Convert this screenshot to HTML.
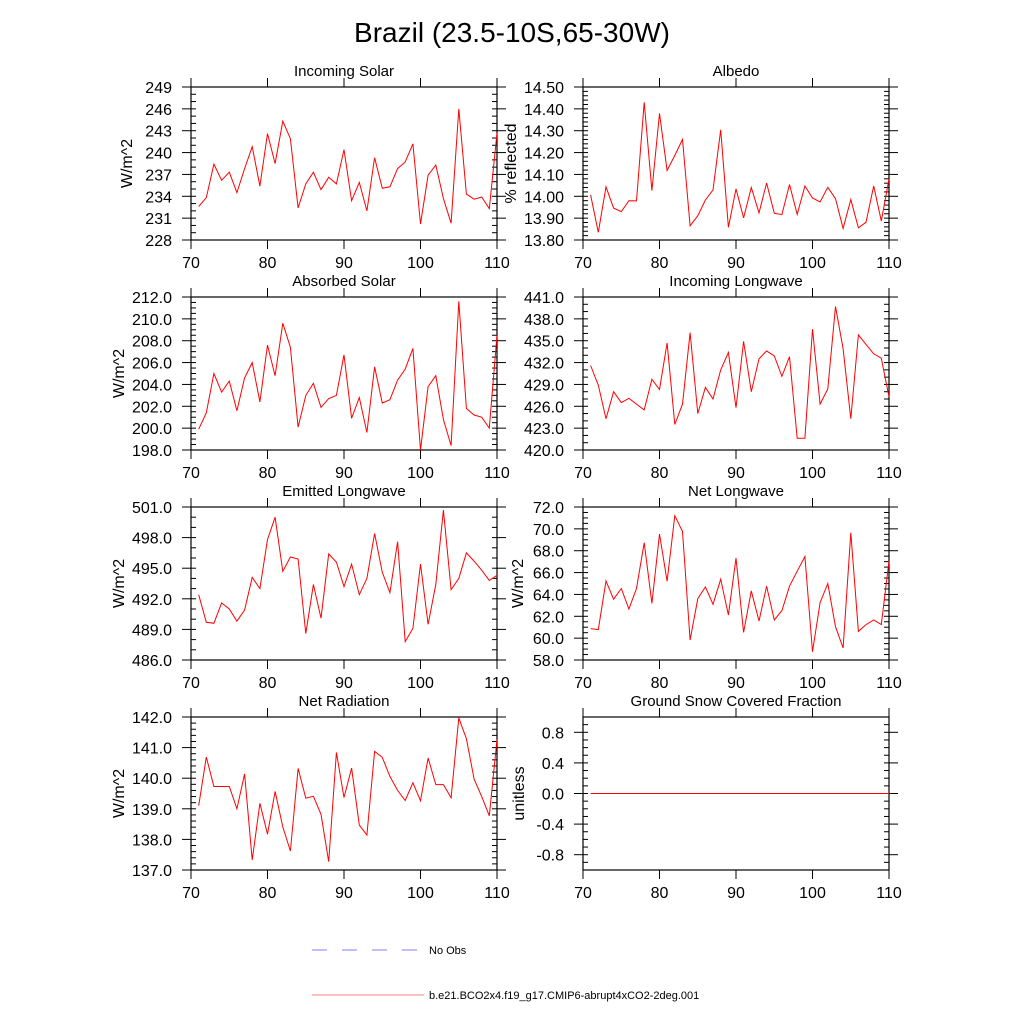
<!DOCTYPE html>
<html><head><meta charset="utf-8"><style>
html,body{margin:0;padding:0;background:#fff;}
svg text{font-family:"Liberation Sans",sans-serif;fill:#000;}
</style></head><body>
<svg id="chart" width="1024" height="1024" viewBox="0 0 1024 1024" xmlns="http://www.w3.org/2000/svg">
<rect x="0" y="0" width="1024" height="1024" fill="#fff"/>
<text x="512" y="42" font-size="28" text-anchor="middle">Brazil (23.5-10S,65-30W)</text>
<g id="panels"></g>
<g>
<line x1="312" y1="950" x2="418" y2="950" stroke="#7f7fff" stroke-width="1" stroke-dasharray="15,15"/>
<text x="429" y="954" font-size="11">No Obs</text>
<line x1="312" y1="995" x2="424" y2="995" stroke="#ff8080" stroke-width="1"/>
<text x="429" y="999" font-size="11">b.e21.BCO2x4.f19_g17.CMIP6-abrupt4xCO2-2deg.001</text>
</g>
</svg>
<script>
const years = [71,72,73,74,75,76,77,78,79,80,81,82,83,84,85,86,87,88,89,90,91,92,93,94,95,96,97,98,99,100,101,102,103,104,105,106,107,108,109,110];
const xTicks = [70,80,90,100,110];
const incomingSolar = [232.6,233.8,238.4,236.2,237.3,234.5,237.8,240.8,235.4,242.6,238.5,244.3,241.9,232.4,235.7,237.3,234.9,236.6,235.7,240.4,233.4,235.9,232.0,239.3,235.1,235.3,237.8,238.7,241.2,230.2,236.9,238.3,233.7,230.3,246.0,234.3,233.6,233.9,232.3,242.7];
const albedo = [14.006,13.835,14.043,13.946,13.930,13.980,13.979,14.430,14.026,14.379,14.118,14.187,14.260,13.865,13.911,13.983,14.029,14.304,13.858,14.034,13.901,14.040,13.924,14.061,13.922,13.916,14.054,13.917,14.047,13.992,13.974,14.041,13.989,13.853,13.985,13.856,13.881,14.047,13.887,14.080];
const absorbedSolar = [199.9,201.4,205.0,203.3,204.3,201.6,204.6,206.0,202.4,207.6,204.8,209.6,207.4,200.1,203.0,204.1,201.9,202.7,203.0,206.7,200.9,202.8,199.6,205.6,202.3,202.6,204.4,205.4,207.3,198.0,203.8,204.8,200.8,198.4,211.6,201.8,201.2,201.0,200.0,208.5];
const incomingLW = [431.6,428.9,424.3,428.0,426.5,427.1,426.3,425.5,429.7,428.3,434.7,423.5,426.3,436.1,425.0,428.6,427.0,431.0,433.4,425.8,434.9,428.0,432.5,433.6,432.9,430.1,432.8,421.6,421.6,436.6,426.3,428.4,439.7,433.9,424.3,435.8,434.5,433.2,432.6,427.3];
const emittedLW = [492.4,489.7,489.6,491.6,491.0,489.8,490.9,494.1,493.0,497.8,500.0,494.7,496.1,495.9,488.6,493.4,490.1,496.4,495.6,493.2,495.4,492.4,494.0,498.4,494.6,492.6,497.6,487.8,489.1,495.4,489.5,493.4,500.7,492.9,494.0,496.5,495.7,494.8,493.8,494.3];
const netLW = [60.87,60.78,65.24,63.56,64.54,62.67,64.54,68.73,63.19,69.52,65.21,71.20,69.77,59.83,63.62,64.69,63.10,65.39,62.12,67.32,60.53,64.32,61.57,64.75,61.66,62.52,64.75,66.13,67.47,58.76,63.25,65.00,61.05,59.10,69.65,60.62,61.24,61.66,61.24,67.05];
const netRad = [139.10,140.69,139.73,139.73,139.73,139.00,140.14,137.33,139.18,138.17,139.57,138.41,137.62,140.32,139.35,139.41,138.82,137.27,140.84,139.37,140.33,138.47,138.14,140.88,140.68,140.06,139.60,139.27,139.85,139.26,140.66,139.79,139.79,139.36,141.97,141.29,139.97,139.40,138.77,141.26];
const snow = [0,0,0,0,0,0,0,0,0,0,0,0,0,0,0,0,0,0,0,0,0,0,0,0,0,0,0,0,0,0,0,0,0,0,0,0,0,0,0,0];
const titles = ["Incoming Solar","Albedo","Absorbed Solar","Incoming Longwave","Emitted Longwave","Net Longwave","Net Radiation","Ground Snow Covered Fraction"];
const yTitles = ["W/m^2","% reflected","W/m^2","","W/m^2","W/m^2","W/m^2","unitless"];
const yRanges = [[228,249],[13.8,14.5],[198,212],[420,441],[486,501],[58,72],[137,142],[-1,1]];

const NS="http://www.w3.org/2000/svg";
const g=document.getElementById('panels');
function mk(tag,attrs,parent){const e=document.createElementNS(NS,tag);for(const k in attrs)e.setAttribute(k,attrs[k]);(parent||g).appendChild(e);return e;}

const cfg=[
 {data:incomingSolar,major:3,minor:1,dec:0,start:228},
 {data:albedo,major:0.1,minor:0.02,dec:2,start:13.8},
 {data:absorbedSolar,major:2,minor:0.5,dec:1,start:198},
 {data:incomingLW,major:3,minor:1,dec:1,start:420},
 {data:emittedLW,major:3,minor:1,dec:1,start:486},
 {data:netLW,major:2,minor:0.5,dec:1,start:58},
 {data:netRad,major:1,minor:0.2,dec:1,start:137},
 {data:snow,major:0.4,minor:0.1,dec:1,start:-0.8}
];
const cols=[[191,497],[583,889]];
const rows=[[87,240],[297,450],[507,660],[717,870]];
const ytitleX=[[128,512],[120,999],[120,519],[120,520]];

cfg.forEach((c,i)=>{
 const r=Math.floor(i/2), col=i%2;
 const x0=cols[col][0],x1=cols[col][1],y0=rows[r][0],y1=rows[r][1];
 const ymin=yRanges[i][0],ymax=yRanges[i][1];
 const sx=v=>x0+(v-70)/(110-70)*(x1-x0);
 const sy=v=>y1-(v-ymin)/(ymax-ymin)*(y1-y0);
 const pg=mk('g',{});
 
 
 const t=mk('text',{x:(x0+x1)/2,y:y0-11,'font-size':15,'text-anchor':'middle'},pg);
 t.textContent=titles[i];
 
 
 // minor y ticks inward
 for(let v=ymin;v<=ymax+1e-9;v+=c.minor){
  const y=sy(v);
  const a=mk('line',{x1:x0,y1:y,x2:x0+5,y2:y,stroke:'#000','stroke-width':1},pg);
  
  
  const b=mk('line',{x1:x1,y1:y,x2:x1-5,y2:y,stroke:'#000','stroke-width':1},pg);
  
  
 }
 // major y ticks outward + labels
 for(let v=c.start;v<=ymax+1e-9;v+=c.major){
  const y=sy(v);
  const a=mk('line',{x1:x0-9,y1:y,x2:x0,y2:y,stroke:'#000','stroke-width':1},pg);
  
  
  const b=mk('line',{x1:x1,y1:y,x2:x1+9,y2:y,stroke:'#000','stroke-width':1},pg);
  
  
  const l=mk('text',{x:x0-19,y:y+6,'font-size':16,'text-anchor':'end'},pg);
  l.textContent=(Math.abs(v)<1e-9?0:v).toFixed(c.dec);
  
  
 }
 xTicks.forEach(v=>{
  const x=sx(v);
  const a=mk('line',{x1:x,y1:y0-9,x2:x,y2:y0,stroke:'#000','stroke-width':1},pg);
  
  
  const b=mk('line',{x1:x,y1:y1,x2:x,y2:y1+9,stroke:'#000','stroke-width':1},pg);
  
  
  const l=mk('text',{x:x,y:y1+28,'font-size':16,'text-anchor':'middle'},pg);
  l.textContent=v;
  
  
 });
 const box=mk('rect',{x:x0,y:y0,width:x1-x0,height:y1-y0,fill:'none',stroke:'#000','stroke-width':1.2},pg);
 
 
 const yt=yTitles[i];
 if(yt){
  const tx=ytitleX[r][col], ty=(y0+y1)/2;
  const e=mk('text',{x:tx,y:ty,'font-size':16,'text-anchor':'middle',transform:`rotate(-90 ${tx} ${ty})`,'dominant-baseline':'middle'},pg);
  e.textContent=yt;
  
  
 }
 const pts=c.data.map((v,k)=>sx(years[k]).toFixed(1)+','+sy(v).toFixed(1)).join(' ');
 const pl=mk('polyline',{points:pts,fill:'none',stroke:'#ff0000','stroke-width':1},pg);
 
 
});
</script>
</body></html>
